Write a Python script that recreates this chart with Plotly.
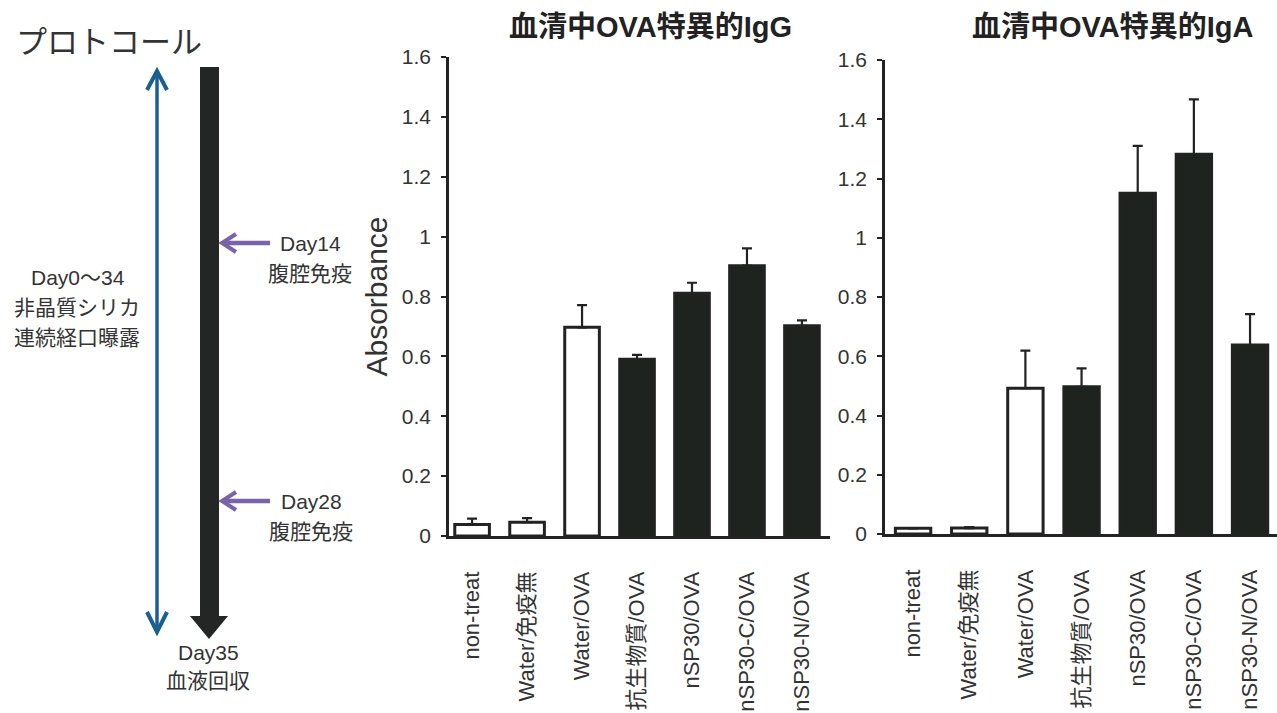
import plotly.graph_objects as go

W, H = 1277, 713

categories = ["non-treat", "Water/免疫無", "Water/OVA", "抗生物質/OVA",
              "nSP30/OVA", "nSP30-C/OVA", "nSP30-N/OVA"]
groups = ["open", "open", "open", "solid", "solid", "solid", "solid"]

igg_mean = [0.038, 0.046, 0.697, 0.590, 0.811, 0.903, 0.702]
igg_sd = [0.020, 0.014, 0.074, 0.015, 0.035, 0.058, 0.018]

iga_mean = [0.019, 0.020, 0.492, 0.497, 1.150, 1.282, 0.638]
iga_sd = [0.000, 0.003, 0.127, 0.062, 0.160, 0.185, 0.104]

y_ticks = [0, 0.2, 0.4, 0.6, 0.8, 1, 1.2, 1.4, 1.6]
y_ticktext = ["0", "0.2", "0.4", "0.6", "0.8", "1", "1.2", "1.4", "1.6"]

FONT = "Arial, 'Liberation Sans', 'Noto Sans CJK JP', sans-serif"
DARK = "#1e231f"
AX = "#222222"
TXT = "#333333"

fills = ["white" if g == "open" else DARK for g in groups]


def bar_trace(mean, sd, xa, ya):
    return go.Bar(
        x=categories, y=mean, xaxis=xa, yaxis=ya,
        marker=dict(color=fills, line=dict(color=AX, width=3)),
        error_y=dict(type="data", array=sd, arrayminus=[0] * len(sd),
                     symmetric=False, color=AX, thickness=2.2, width=5),
        showlegend=False, hoverinfo="x+y",
    )


fig = go.Figure()
fig.add_trace(bar_trace(igg_mean, igg_sd, "x", "y"))
fig.add_trace(bar_trace(iga_mean, iga_sd, "x2", "y2"))


def px_x(p):
    return p / W


def px_y(p):
    return (H - p) / H


xcommon = dict(type="category", showgrid=False, zeroline=False, showline=True,
               linecolor=AX, linewidth=2.5, ticks="", tickangle=-90,
               tickfont=dict(family=FONT, size=22, color=TXT),
               ticklabelstandoff=24, automargin=False, fixedrange=True)
ycommon = dict(range=[0, 1.6], tickvals=y_ticks, ticktext=y_ticktext,
               showgrid=False, zeroline=False, showline=True, linecolor=AX,
               linewidth=2.5, ticks="outside", ticklen=5, tickwidth=2,
               tickcolor=AX, tickfont=dict(family=FONT, size=21, color=TXT),
               ticklabelstandoff=6, automargin=False, fixedrange=True)

fig.update_layout(
    width=W, height=H,
    margin=dict(l=0, r=0, t=0, b=0),
    paper_bgcolor="white", plot_bgcolor="rgba(0,0,0,0)",
    bargap=0.37,
    font=dict(family=FONT, color=TXT),
    xaxis=dict(domain=[px_x(449), px_x(830)], range=[-0.42, 6.51],
               anchor="y", **xcommon),
    yaxis=dict(domain=[px_y(536), px_y(57)], anchor="x",
               title=dict(text="Absorbance", font=dict(family=FONT, size=30, color=TXT),
                          standoff=6),
               **ycommon),
    xaxis2=dict(domain=[px_x(885), 1.0], range=[-0.5, 6.48],
                anchor="y2", **xcommon),
    yaxis2=dict(domain=[px_y(534), px_y(60)], anchor="x2", **ycommon),
    xaxis3=dict(domain=[0, px_x(380)], range=[0, 380], visible=False,
                anchor="y3", fixedrange=True),
    yaxis3=dict(domain=[0, 1], range=[H, 0], visible=False,
                anchor="x3", fixedrange=True),
)

# dummy invisible trace so axis 3 exists
fig.add_trace(go.Scatter(x=[0], y=[0], xaxis="x3", yaxis="y3", mode="markers",
                         marker=dict(opacity=0), showlegend=False, hoverinfo="skip"))

# titles
for title, cx in (("<b>血清中OVA特異的IgG</b>", 650), ("<b>血清中OVA特異的IgA</b>", 1112)):
    fig.add_annotation(text=title, x=px_x(cx), y=px_y(27),
                       xref="paper", yref="paper", showarrow=False,
                       xanchor="center", yanchor="middle",
                       font=dict(family=FONT, size=29, color="#222"))

# protocol diagram (pixel coordinates on hidden axis 3)
BLUE = "#1b5f90"
PURPLE = "#7a63a8"
shapes = []
shapes.append(dict(type="line", x0=157, y0=73, x1=157, y1=630,
                   line=dict(color=BLUE, width=3.5)))
shapes.append(dict(type="path", path="M 147,90 L 157,71 L 167,90",
                   line=dict(color=BLUE, width=4)))
shapes.append(dict(type="path", path="M 147,612 L 157,632 L 167,612",
                   line=dict(color=BLUE, width=4)))
shapes.append(dict(type="rect", x0=200, x1=219, y0=67, y1=618,
                   fillcolor="#232624", line=dict(width=0)))
shapes.append(dict(type="path", path="M 190,616 L 228,616 L 209,639 Z",
                   fillcolor="#232624", line=dict(width=0)))
for yy in (243, 501):
    shapes.append(dict(type="line", x0=224, y0=yy, x1=270, y1=yy,
                       line=dict(color=PURPLE, width=4.5)))
    shapes.append(dict(type="path", path=f"M 236,{yy-9} L 222,{yy} L 236,{yy+9}",
                       line=dict(color=PURPLE, width=4)))
for s in shapes:
    s.update(xref="x3", yref="y3")
    fig.add_shape(**s)

texts = [
    ("プロトコール", 14, 42, 31, "left"),
    ("Day14", 310, 243, 21, "center"),
    ("腹腔免疫", 310, 273, 21, "center"),
    ("Day28", 311, 501, 21, "center"),
    ("腹腔免疫", 311, 531, 21, "center"),
    ("Day0～34", 78, 277, 21, "center"),
    ("非晶質シリカ", 77, 307, 21, "center"),
    ("連続経口曝露", 77, 337, 21, "center"),
    ("Day35", 208, 652, 21, "center"),
    ("血液回収", 208, 680, 21, "center"),
]
for t, x, y, sz, xa in texts:
    fig.add_annotation(text=t, x=x, y=y, xref="x3", yref="y3", showarrow=False,
                       xanchor=xa, yanchor="middle",
                       font=dict(family=FONT, size=sz, color=TXT))

fig.write_html("out.html", config={"displayModeBar": False},
               post_script="document.body.style.margin='0';")
